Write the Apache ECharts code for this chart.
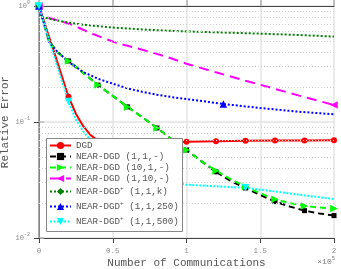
<!DOCTYPE html>
<html><head><meta charset="utf-8">
<script src="https://cdn.jsdelivr.net/npm/echarts@6/dist/echarts.min.js"></script>
<style>html,body{margin:0;padding:0;background:#fff}#c{width:341px;height:269px}</style>
</head><body><div id="c"></div>
<script>
// x values are Number of Communications in units of 1e5
const xTicks = [0, 0.5, 1, 1.5, 2];
const yTicks = [0.01, 0.1, 1];
const minorGrid = [0.02,0.03,0.04,0.05,0.06,0.07,0.08,0.09,0.2,0.3,0.4,0.5,0.6,0.7,0.8,0.9];

const dgdX = [0, 0.05, 0.1, 0.15, 0.2, 0.25, 0.3, 0.35, 0.4, 0.5, 0.6, 0.8, 1.0, 1.2, 1.4, 1.6, 1.8, 2.0];
const dgdY = [1, 0.64, 0.41, 0.26, 0.165, 0.118, 0.092, 0.077, 0.069, 0.0658, 0.065, 0.0658, 0.0676, 0.0683, 0.0688, 0.0692, 0.0694, 0.0695];

const near111X = [0, 0.07, 0.125, 0.2, 0.3, 0.4, 0.5, 0.6, 0.7, 0.8, 0.9, 1.0, 1.1, 1.2, 1.3, 1.4, 1.5, 1.6, 1.7, 1.8, 1.9, 2.0];
const near111Y = [1, 0.49, 0.40, 0.336, 0.265, 0.208, 0.168, 0.135, 0.11, 0.0888, 0.071, 0.0574, 0.046, 0.0372, 0.031, 0.027, 0.0235, 0.0206, 0.0187, 0.0172, 0.0163, 0.0156];

const near1011X = [0, 0.07, 0.125, 0.2, 0.3, 0.4, 0.5, 0.6, 0.7, 0.8, 0.9, 1.0, 1.1, 1.2, 1.3, 1.4, 1.5, 1.6, 1.7, 1.8, 1.9, 2.0];
const near1011Y = [1, 0.49, 0.40, 0.336, 0.265, 0.208, 0.168, 0.135, 0.11, 0.0888, 0.071, 0.0574, 0.046, 0.038, 0.0322, 0.0277, 0.0243, 0.0216, 0.0200, 0.0189, 0.0183, 0.018];

const near1110X = [0, 0.02, 0.1, 0.16, 0.23, 0.34, 0.52, 0.7, 0.85, 1.0, 1.2, 1.4, 1.6, 1.8, 2.0];
const near1110Y = [1, 0.82, 0.77, 0.73, 0.686, 0.59, 0.483, 0.42, 0.37, 0.318, 0.268, 0.227, 0.193, 0.164, 0.14];

const plusKX = [0, 0.01, 0.1, 0.2, 0.3, 0.4, 0.5, 0.7, 0.9, 1.2, 1.5, 1.8, 2.0];
const plusKY = [1, 0.81, 0.76, 0.72, 0.69, 0.67, 0.652, 0.628, 0.61, 0.593, 0.578, 0.56, 0.545];

const plus250X = [0, 0.068, 0.113, 0.2, 0.3, 0.4, 0.5, 0.6, 0.7, 0.8, 0.9, 1.0, 1.25, 1.5, 1.75, 2.0];
const plus250Y = [1, 0.49, 0.418, 0.33, 0.27, 0.236, 0.214, 0.195, 0.182, 0.172, 0.164, 0.158, 0.143, 0.132, 0.123, 0.1165];

const plus500X = [0, 0.05, 0.1, 0.15, 0.2, 0.25, 0.3, 0.35, 0.4, 0.5, 0.6, 0.7, 0.8, 0.9, 1.0, 1.2, 1.4, 1.6, 1.8, 2.0];
const plus500Y = [1, 0.61, 0.38, 0.235, 0.15, 0.105, 0.083, 0.07, 0.06, 0.047, 0.0395, 0.035, 0.032, 0.030, 0.0288, 0.0279, 0.0271, 0.0252, 0.0233, 0.0217];

const names = ['DGD', 'NEAR-DGD (1,1,-)', 'NEAR-DGD (10,1,-)', 'NEAR-DGD (1,10,-)',
  'NEAR-DGD+ (1,1,k)', 'NEAR-DGD+ (1,1,250)', 'NEAR-DGD+ (1,1,500)'];

const FONT = 'Liberation Mono';
const every02 = [0,0.2,0.4,0.6,0.8,1.0,1.2,1.4,1.6,1.8,2.0];

function mk(name, xs, ys, color, symbol, rot, size, dash, width, marks) {
  return {
    name: name, type: 'line', data: xs.map((x, i) => [x, ys[i]]),
    symbol: symbol, symbolRotate: rot, showSymbol: true, showAllSymbol: true,
    symbolSize: function (v) { return marks.indexOf(v[0]) >= 0 ? size : 0; },
    itemStyle: { color: color, borderWidth: 0 },
    lineStyle: { color: color, width: width, type: dash },
    emphasis: { disabled: true }, animation: false, z: 2
  };
}

const series = [
  mk(names[0], dgdX, dgdY, '#ff0000', 'circle', 0, 6, 'solid', 2, every02),
  mk(names[1], near111X, near111Y, '#000000', 'rect', 0, 5, [6, 4], 2, every02),
  mk(names[2], near1011X, near1011Y, '#00ff00', 'triangle', -90, 7.5, [6, 4], 2, every02),
  mk(names[3], near1110X, near1110Y, '#ff00ff', 'triangle', 90, 7.5, [10, 6], 2, [0, 2.0]),
  mk(names[4], plusKX, plusKY, '#008000', 'diamond', 0, 7, [2, 2], 2, [0]),
  mk(names[5], plus250X, plus250Y, '#0000ff', 'triangle', 0, 7.5, [2, 2], 2, [0, 1.25]),
  mk(names[6], plus500X, plus500Y, '#00ffff', 'triangle', 180, 7.5, [2, 1.5], 2, [0, 0.2, 0.8, 1.4])
];

series.unshift({
  name: 'minor', type: 'line', data: [], z: 1, silent: true,
  markLine: {
    silent: true, symbol: 'none', animation: false,
    label: { show: false },
    lineStyle: { color: '#cfcfcf', width: 1, type: [1, 2] },
    emphasis: { disabled: true },
    data: minorGrid.map(v => ({ yAxis: v }))
  }
});

function yFmt(v) {
  const e = Math.round(Math.log10(v));
  return '{b|10}{s|' + e + '}';
}

const chart = echarts.init(document.getElementById('c'), null, { renderer: 'canvas' });
chart.setOption({
  animation: false,
  backgroundColor: '#fff',
  grid: { left: 39, right: 7, top: 6, bottom: 31, containLabel: false, outerBoundsMode: 'none' },
  xAxis: [{
    type: 'value', min: 0, max: 2, interval: 0.5, position: 'bottom',
    name: 'Number of Communications', nameLocation: 'middle', nameGap: 20, nameMoveOverlap: false,
    nameTextStyle: { fontFamily: FONT, fontSize: 11, color: '#555' },
    axisLine: { show: true, lineStyle: { color: '#444', width: 1 } },
    axisTick: { show: true, inside: false, length: 5, lineStyle: { color: '#444' } },
    axisLabel: { margin: 9, fontFamily: FONT, fontSize: 7.5, color: '#888',
      formatter: v => (xTicks.indexOf(v) >= 0 ? String(v) : '') },
    splitLine: { show: true, lineStyle: { color: '#e4e4e4', width: 1.5 } }
  }, {
    type: 'value', min: 0, max: 2, interval: 0.5, position: 'top',
    axisLine: { show: true, onZero: false, lineStyle: { color: '#444', width: 1 } },
    axisTick: { show: true, inside: false, length: 6, lineStyle: { color: '#aaa', width: 1.5 } },
    axisLabel: { show: false }, splitLine: { show: false }
  }],
  yAxis: [{
    type: 'log', logBase: 10, min: 0.01, max: 1,
    name: 'Relative Error', nameLocation: 'middle', nameGap: 28, nameRotate: 90, nameMoveOverlap: false,
    nameTextStyle: { fontFamily: FONT, fontSize: 11, color: '#555' },
    axisLine: { show: true, lineStyle: { color: '#444', width: 1 } },
    axisTick: { show: true, inside: false, length: 5, lineStyle: { color: '#444' } },
    axisLabel: { margin: 9, formatter: yFmt,
      rich: { b: { fontFamily: FONT, fontSize: 7, color: '#888' },
              s: { fontFamily: FONT, fontSize: 5, color: '#888', padding: [0, 0, 6, 0] } } },
    splitLine: { show: true, lineStyle: { color: '#e4e4e4', width: 1.5 } }
  }, {
    type: 'log', logBase: 10, min: 0.01, max: 1, position: 'right',
    axisLine: { show: true, lineStyle: { color: '#999', width: 1.5 } },
    axisTick: { show: true, inside: false, length: 5, lineStyle: { color: '#bbb', width: 1.5 } },
    axisLabel: { show: false }, splitLine: { show: false }
  }],
  legend: {
    data: names, left: 46, top: 137, orient: 'vertical', z: 20,
    backgroundColor: 'transparent', borderWidth: 0,
    padding: [4, 3, 1, 3], itemGap: 2, itemWidth: 21, itemHeight: 9, itemTextGap: 2,
    selectedMode: false,
    formatter: function (n) {
      if (n.indexOf('+') >= 0) {
        const p = n.split('+');
        return '{p|' + p[0] + '}{s|+}{p|' + p[1] + '}';
      }
      return '{n|' + n + '}';
    },
    textStyle: {
      fontFamily: FONT, fontSize: 9.2, color: '#555',
      rich: {
        n: { fontFamily: FONT, fontSize: 9.2, color: '#555', lineHeight: 11.5 },
        p: { fontFamily: FONT, fontSize: 9.2, color: '#555', lineHeight: 15 },
        s: { fontFamily: FONT, fontSize: 6, color: '#555', lineHeight: 15, padding: [0, 0, 7, 0] }
      }
    }
  },
  graphic: [{
    type: 'rect', left: 46, top: 138, z: 15, silent: true,
    shape: { width: 136, height: 93 },
    style: { fill: '#fff', stroke: '#888', lineWidth: 1 }
  }, {
    type: 'text', right: 6, top: 256,
    style: {
      text: '{a|×10}{s|5}',
      rich: { a: { fontFamily: FONT, fontSize: 8, fill: '#777' },
              s: { fontFamily: FONT, fontSize: 5.5, fill: '#777', padding: [0, 0, 6, 0] } }
    }
  }],
  series: series
});
</script></body></html>
